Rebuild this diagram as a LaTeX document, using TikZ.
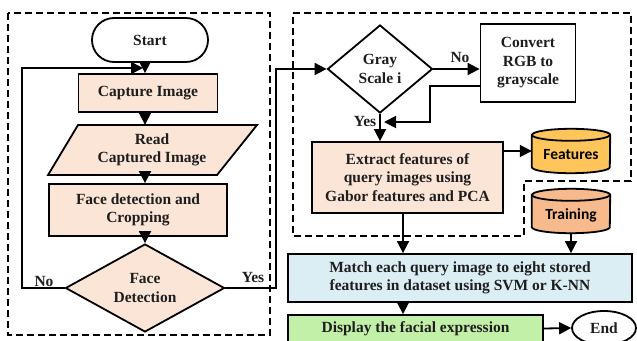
\documentclass[tikz,border=0pt]{standalone}
\usepackage{fontspec}
\setmainfont{Liberation Serif}
\newfontfamily\carl{Carlito}
\usetikzlibrary{shapes.geometric,arrows.meta,calc}
\definecolor{peach}{HTML}{FBE5D6}
\definecolor{lblue}{HTML}{DAEEF3}
\definecolor{lgreen}{HTML}{C2F0A9}
\definecolor{featcol}{HTML}{FFC55A}
\definecolor{traincol}{HTML}{F6BA8C}
\definecolor{ink}{HTML}{1E1E1E}
\begin{document}
\begin{tikzpicture}[x=1pt,y=-1pt,
  every node/.style={font=\fontsize{15.5}{18.5}\selectfont\bfseries, text=ink, align=center, inner sep=0pt},
  shp/.style={draw=black, line width=1.8pt},
  procbox/.style={shp, fill=peach},
  decision/.style={shp, fill=peach, diamond, inner sep=-4pt},
  arr/.style={line width=1.8pt, -{Triangle[length=12pt,width=12pt]}},
  dashbox/.style={line width=1.4pt, dash pattern=on 7pt off 4pt},
  lab/.style={font=\fontsize{15.5}{18.5}\selectfont\bfseries},
  cyl/.style={font=\fontsize{15.5}{18.5}\carl\bfseries, text=black, minimum width=78pt, minimum height=44pt}]
\useasboundingbox (0,0) rectangle (637,340);
\clip (0,0) rectangle (637,340);

% dashed frames
\draw[dashbox] (8,13) rectangle (270,335);
\draw[dashbox] (293,13) -- (631,13) -- (631,181) -- (524,181) -- (524,236) -- (293,236) -- cycle;

% helper coordinates
\coordinate (lcol) at (145,0);
\coordinate (colx) at (403,0);
\coordinate (loopx) at (22,0);
\coordinate (loopend) at (143,68);
\coordinate (yesx) at (276,0);
\coordinate (backend) at (384,122);

% left column
\node[shp, fill=white, rounded corners=22pt, minimum width=116pt, minimum height=44pt] (start) at (150,40) {Start};
\node[procbox, minimum width=139pt, minimum height=38pt] (capture) at (148,93) {Capture Image};
\filldraw[shp, fill=peach] (48,175) -- (78,125) -- (257,125) -- (217,175) -- cycle;
\node[minimum width=170pt, minimum height=50pt] (read) at (152,150) {Read\\Captured Image};
\node[procbox, minimum width=178pt, minimum height=52pt] (crop) at (138,210) {Face detection and\\Cropping};
\node[decision, minimum width=159pt, minimum height=88pt] (dia) at (145,288) {Face\\Detection};

% right part
\node[shp, fill=white, diamond, inner sep=-4pt, minimum width=105pt, minimum height=88pt] (gray) at (380,69) {Gray\\Scale i};
\node[shp, fill=white, minimum width=95pt, minimum height=78pt] (convert) at (528,63) {Convert\\RGB to\\grayscale};
\node[procbox, minimum width=191pt, minimum height=71pt] (extract) at (407.5,177.5) {Extract features of\\query images using\\Gabor features and PCA};

% cylinders
\node[cyl] (feat) at (571,151) {};
\filldraw[shp, fill=featcol] ([yshift=-6pt]feat.north west) -- ([yshift=6pt]feat.south west)
  arc[start angle=180, end angle=360, x radius=39pt, y radius=6pt]
  -- ([yshift=-6pt]feat.north east)
  arc[start angle=0, end angle=180, x radius=39pt, y radius=6pt] -- cycle;
\draw[shp] ([yshift=-6pt]feat.north west) arc[start angle=180, end angle=360, x radius=39pt, y radius=6pt];
\node[cyl] at ([yshift=-4pt]feat.center) {Features};

\node[cyl] (train) at (571,211) {};
\filldraw[shp, fill=traincol] ([yshift=-6pt]train.north west) -- ([yshift=6pt]train.south west)
  arc[start angle=180, end angle=360, x radius=39pt, y radius=6pt]
  -- ([yshift=-6pt]train.north east)
  arc[start angle=0, end angle=180, x radius=39pt, y radius=6pt] -- cycle;
\draw[shp] ([yshift=-6pt]train.north west) arc[start angle=180, end angle=360, x radius=39pt, y radius=6pt];
\node[cyl] at ([yshift=-4pt]train.center) {Training};

\node[shp, fill=lblue, minimum width=344pt, minimum height=48pt] (match) at (460,278) {Match each query image to eight stored\\features in dataset using SVM or K-NN};
\node[shp, fill=lgreen, minimum width=255pt, minimum height=27pt] (display) at (415.5,328.5) {Display the facial expression};
\node[shp, fill=white, ellipse, minimum width=64pt, minimum height=34pt] (end) at (604,328) {End};

% connectors left
\draw[arr] (start.south -| lcol) -- (capture.north -| lcol);
\draw[arr] (capture.south -| lcol) -- (read.north -| lcol);
\draw[arr] (read.south -| lcol) -- (crop.north -| lcol);
\draw[arr] (crop.south -| lcol) -- (dia.north);
\draw[arr] (dia.west) -- (dia.west -| loopx) |- (loopend);
\draw[arr] (dia.east) -- (dia.east -| yesx) |- (gray.west);
\node[lab] at (44,281) {No};
\node[lab] at (253,277) {Yes};

% connectors right
\draw[arr] (gray.east) -- (gray.east -| convert.west);
\node[lab] at (460,58) {No};
\draw[arr] ([yshift=-23pt]convert.west) -- ++(-50,0) |- (backend);
\draw[arr] (gray.south) -- (gray.south |- extract.north);
\node[lab] at (365,121) {Yes};
\draw[arr] (extract.east |- feat.west) -- (feat.west);
\draw[arr] (extract.south -| colx) -- (match.north -| colx);
\draw[arr] (train.south) -- (train.south |- match.north);
\draw[arr] (match.south -| colx) -- (display.north -| colx);
\draw[arr] (display.east) -- (end.west);
\end{tikzpicture}
\end{document}
